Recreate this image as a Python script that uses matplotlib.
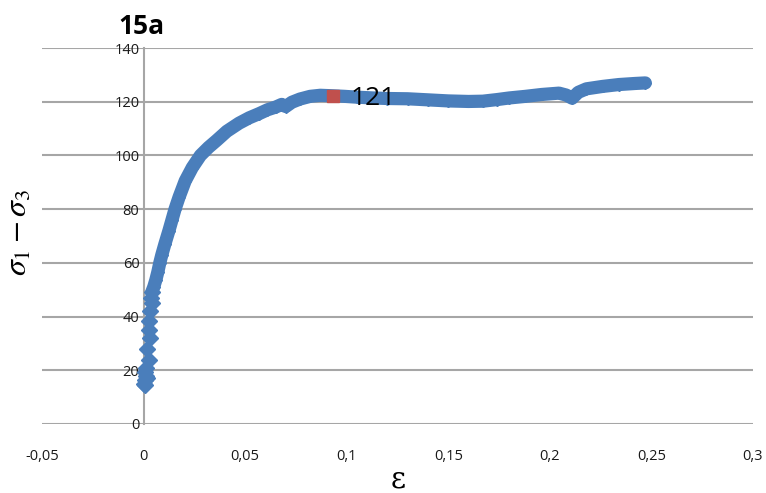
import matplotlib
matplotlib.use("Agg")
import matplotlib.pyplot as plt
from matplotlib.ticker import FuncFormatter

# strain / deviator stress
strain = [0.0000, 0.0005, 0.0010, 0.0005, 0.0010, 0.0015, 0.0008,
          0.0025, 0.0015, 0.0030, 0.0025, 0.0025, 0.0030, 0.0040, 0.0035, 0.0040,
          0.0050, 0.0060, 0.0070, 0.0080, 0.0090, 0.0105, 0.0125, 0.0140, 0.0155,
          0.0175, 0.0205, 0.0240, 0.0280, 0.0320, 0.0360, 0.0410, 0.0470, 0.0520,
          0.0570, 0.0610, 0.0650, 0.0680, 0.0700, 0.0730, 0.0770, 0.0820, 0.0870,
          0.0935, 0.0990, 0.1050, 0.1130, 0.1200, 0.1300, 0.1400, 0.1500, 0.1600,
          0.1670, 0.1740, 0.1800, 0.1880, 0.1960, 0.2045, 0.2080, 0.2110, 0.2140,
          0.2180, 0.2260, 0.2340, 0.2420, 0.2470]
stress = [15.0, 16.5, 18.0, 19.5, 21.0, 17.0, 14.5,
          24.0, 28.0, 32.0, 35.0, 38.5, 42.0, 45.0, 47.0, 49.0,
          51.0, 53.5, 56.5, 60.0, 63.0, 67.0, 72.0, 76.0, 80.0,
          84.5, 90.5, 95.5, 100.0, 103.0, 105.6, 109.0, 112.0, 114.0,
          115.6, 117.0, 118.0, 119.0, 118.2, 119.8, 121.0, 122.0, 122.4,
          122.2, 122.0, 121.7, 121.4, 121.2, 121.1, 120.7, 120.3, 120.1,
          120.2, 120.8, 121.4, 122.0, 122.7, 123.2, 122.5, 121.3, 123.5,
          124.8, 125.7, 126.4, 126.8, 127.0]
n_discrete = 16  # first points show as separate diamonds

peak_x = [0.0935]
peak_y = [122.2]
peak_label = "121"

xticks = [-0.05, 0, 0.05, 0.1, 0.15, 0.2, 0.25, 0.3]
yticks = [0, 20, 40, 60, 80, 100, 120, 140]

blue = "#4A7EBB"
grid = "#A6A6A6"

plt.rcParams['font.family'] = ['Open Sans', 'DejaVu Sans']
plt.rcParams['mathtext.fontset'] = 'stix'

fig = plt.figure(figsize=(7.66, 4.93), dpi=100)
ax = fig.add_axes([0.0548, 0.14, 0.9282, 0.7626])

# continuous band
ax.plot(strain[n_discrete - 1:], stress[n_discrete - 1:], color=blue, lw=9.5,
        solid_capstyle='round', solid_joinstyle='round', zorder=3)
# separate diamonds at the start, small ones along the band
ax.plot(strain[:n_discrete], stress[:n_discrete], ls='none', marker='D', ms=8.5,
        color=blue, mec=blue, zorder=4)
ax.plot(strain[n_discrete:], stress[n_discrete:], ls='none', marker='D', ms=6,
        color=blue, mec=blue, zorder=4)
ax.plot(peak_x, peak_y, ls='none', marker='s', ms=9, color="#C0504D", zorder=5)
ax.annotate(peak_label, (peak_x[0], peak_y[0]), xytext=(12, -2), textcoords='offset points',
            ha='left', va='center', fontsize=19, color='black', zorder=6)

ax.set_xlim(-0.05, 0.3)
ax.set_ylim(0, 140)
ax.set_xticks(xticks)
ax.set_yticks(yticks)
ax.xaxis.set_major_formatter(FuncFormatter(lambda v, p: ('%g' % round(v, 2)).replace('.', ',')))

ax.grid(axis='y', color=grid, lw=1.5)
ax.set_axisbelow(True)
for s in ['top', 'right', 'bottom']:
    ax.spines[s].set_visible(False)
ax.spines['left'].set_position(('data', 0))
ax.spines['left'].set_color(grid)
ax.spines['left'].set_linewidth(1.5)
ax.tick_params(axis='both', length=0, labelsize=10.5, labelcolor='#1a1a1a')
ax.tick_params(axis='x', pad=18)
ax.tick_params(axis='y', pad=3)

fig.text(141 / 766, 1 - 26 / 493, "15a", fontsize=19, fontweight='bold', ha='center', va='center')

fig.text(18 / 766, 1 - 232 / 493, r'$\sigma_1 - \sigma_3$', rotation=90, fontsize=23,
         ha='center', va='center')
fig.text(398 / 766, 1 - 480 / 493, 'ε', family='DejaVu Serif', fontsize=21,
         ha='center', va='center')

fig.savefig("out.png", dpi=100)
